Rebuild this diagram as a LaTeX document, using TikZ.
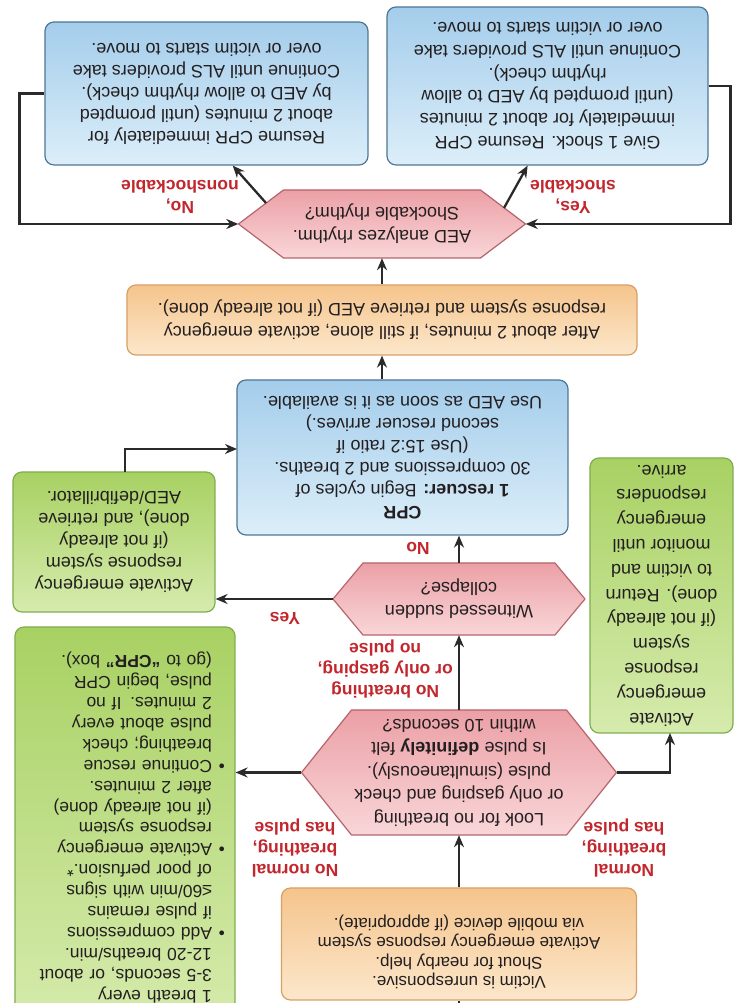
\documentclass[tikz,border=0pt]{standalone}
\usepackage{fontspec}
\setmainfont{Liberation Sans}
\usetikzlibrary{arrows.meta}

\definecolor{txt}{HTML}{231F20}
\definecolor{lbl}{HTML}{C1272D}
\definecolor{lnc}{HTML}{2A2A2A}
\definecolor{orA}{HTML}{FCE7CB}
\definecolor{orB}{HTML}{F5C48C}
\definecolor{orD}{HTML}{D9A066}
\definecolor{bluA}{HTML}{DCEEF9}
\definecolor{bluB}{HTML}{A4CDEB}
\definecolor{bluD}{HTML}{4F7795}
\definecolor{grA}{HTML}{D6EBAD}
\definecolor{grB}{HTML}{A8D163}
\definecolor{grD}{HTML}{7FAE4E}
\definecolor{pkA}{HTML}{F9D6D8}
\definecolor{pkB}{HTML}{EBA0A6}
\definecolor{pkD}{HTML}{B5646B}

\tikzset{
  base/.style={inner sep=0pt, text=txt, align=center, font=\fontsize{18}{22}\selectfont},
  roundbox/.style={base, rounded corners=9pt, line width=1.2pt},
  orbox/.style={roundbox, draw=orD, top color=orB, bottom color=orA},
  bluebox/.style={roundbox, draw=bluD, top color=bluB, bottom color=bluA},
  greenbox/.style={roundbox, draw=grD, top color=grB, bottom color=grA},
  hexshape/.style={draw=pkD, line width=1.2pt, top color=pkB, bottom color=pkA, line join=round},
  lab/.style={inner sep=0pt, text=lbl, align=center, font=\bfseries\fontsize{17.5}{21}\selectfont},
  arr/.style={draw=lnc, line width=2.3pt, -{Stealth[length=12pt,width=10pt]}},
  ln/.style={draw=lnc, line width=2.3pt},
}

\newcommand{\hexpath}[5]{%
  \path[hexshape] ({#1-#3},{#2}) -- ({#1-#3+#5},{#2+#4}) -- ({#1+#3-#5},{#2+#4})
    -- ({#1+#3},{#2}) -- ({#1+#3-#5},{#2-#4}) -- ({#1-#3+#5},{#2-#4}) -- cycle;}

\begin{document}
\begin{tikzpicture}[x=1pt, y=1pt, rotate=180, transform shape]
\useasboundingbox (0,0) rectangle (735,-1003);
\clip (0,0) rectangle (735,-1003);

% boxes
\node[orbox, font=\fontsize{17}{19.5}\selectfont, minimum width=355pt, minimum height=112pt] (box1) at (276,-59)
  {Victim is unresponsive.\\Shout for nearby help.\\Activate emergency response system\\via mobile device (if appropriate).\\\mbox{}};

\hexpath{276}{-230.5}{157.5}{62.5}{50}
\node[base, font=\fontsize{18}{23.5}\selectfont, minimum width=315pt, minimum height=125pt] (h1) at (276,-230.5)
  {Look for no breathing\\or only gasping and check\\pulse (simultaneously).\\Is pulse \textbf{definitely} felt\\within 10 seconds?};

\node[greenbox, font=\fontsize{18}{24.8}\selectfont, minimum width=143pt, minimum height=275pt] (g1) at (73.5,-407.5)
  {Activate\\emergency\\response\\system\\(if not already\\done). Return\\to victim and\\monitor until\\emergency\\responders\\arrive.};

\node[greenbox, align=left, text width=200pt, font=\fontsize{17.5}{20.9}\selectfont, minimum width=220pt, minimum height=401pt] (g2) at (610,-175.5)
  {\hspace*{13pt}1 breath every\\
   \hspace*{13pt}3-5 seconds, or about\\
   \hspace*{13pt}12-20 breaths/min.\\
   \makebox[13pt][l]{\textbullet}Add compressions\\
   \hspace*{13pt}if pulse remains\\
   \hspace*{13pt}≤60/min with signs\\
   \hspace*{13pt}of poor perfusion.*\\
   \makebox[13pt][l]{\textbullet}Activate emergency\\
   \hspace*{13pt}response system\\
   \hspace*{13pt}(if not already done)\\
   \hspace*{13pt}after 2 minutes.\\
   \makebox[13pt][l]{\textbullet}Continue rescue\\
   \hspace*{13pt}breathing; check\\
   \hspace*{13pt}pulse about every\\
   \hspace*{13pt}2 minutes. If no\\
   \hspace*{13pt}pulse, begin CPR\\
   \hspace*{13pt}(go to \textbf{“CPR”} box).};

\hexpath{276}{-404}{126}{36}{30}
\node[base, font=\fontsize{18}{23}\selectfont, minimum width=252pt, minimum height=72pt] (h2) at (276,-404)
  {Witnessed sudden\\collapse?};

\node[greenbox, font=\fontsize{18}{22}\selectfont, minimum width=202pt, minimum height=140pt] (g3) at (621,-461)
  {Activate emergency\\response system\\(if not already\\done), and retrieve\\AED/defibrillator.};

\node[bluebox, font=\fontsize{18}{22}\selectfont, minimum width=331pt, minimum height=155pt] (cpr) at (332.5,-545.5)
  {\textbf{CPR}\\\textbf{1 rescuer:} Begin cycles of\\30 compressions and 2 breaths.\\(Use 15:2 ratio if\\second rescuer arrives.)\\Use AED as soon as it is available.};

\node[orbox, font=\fontsize{18}{23}\selectfont, minimum width=510pt, minimum height=70pt] (o2) at (353,-683)
  {After about 2 minutes, if still alone, activate emergency\\response system and retrieve AED (if not already done).};

\hexpath{353}{-779}{143.5}{34}{45}
\node[base, font=\fontsize{18}{23}\selectfont, minimum width=287pt, minimum height=68pt] (h3) at (353,-779)
  {AED analyzes rhythm.\\Shockable rhythm?};

\node[bluebox, font=\fontsize{18}{22.8}\selectfont, minimum width=321pt, minimum height=158pt] (b1) at (187.5,-917)
  {Give 1 shock. Resume CPR\\immediately for about 2 minutes\\(until prompted by AED to allow\\rhythm check).\\Continue until ALS providers take\\over or victim starts to move.};

\node[bluebox, font=\fontsize{18}{22}\selectfont, minimum width=323pt, minimum height=143pt] (b2) at (528.5,-909.5)
  {Resume CPR immediately for\\about 2 minutes (until prompted\\by AED to allow rhythm check).\\Continue until ALS providers take\\over or victim starts to move.};

% labels
\node[lab] (l1) at (111,-155) {Normal\\breathing,\\has pulse};
\node[lab] (l2) at (440,-155) {No normal\\breathing,\\has pulse};
\node[lab, anchor=west] (l3) at (282,-334) {No breathing\\or only gasping,\\no pulse};
\node[lab] (l4) at (450,-385) {Yes};
\node[lab] (l5) at (317,-455) {No};
\node[lab] (l6) at (162,-806) {Yes,\\shockable};
\node[lab] (l7) at (555,-806) {No,\\nonshockable};

% connectors
\coordinate (t0) at (276,0);
\draw[ln] (t0) -- (box1.north);
\draw[arr] (box1.south) -- (h1.north);
\coordinate (g1in) at (65,-270);
\draw[arr] (h1.west) -| (g1in);
\draw[arr] (h1.east) -- (h1.east -| g2.west);
\draw[arr] (h1.south) -- (h2.north);
\draw[arr] (h2.east) -- (h2.east -| g3.west);
\draw[arr] (h2.south) -- (h2.south |- cpr.north);
\coordinate (g3out) at (610,-531);
\coordinate (cprin) at (498,-554);
\draw[arr] (g3out) |- (cprin);
\draw[arr] (o2.north |- cpr.south) -- (o2.north);
\draw[arr] (o2.south) -- (h3.north);
\coordinate (h3a) at (231,-795);
\draw[arr] (h3a) -- (b1.76);
\coordinate (h3b) at (469,-800);
\draw[arr] (h3b) -- (b2.110);
\draw[arr] (b1.west) -- ++(-22,0) |- (h3.west);
\draw[arr] (b2.east) -- ++(25,0) |- (h3.east);
\end{tikzpicture}
\end{document}
